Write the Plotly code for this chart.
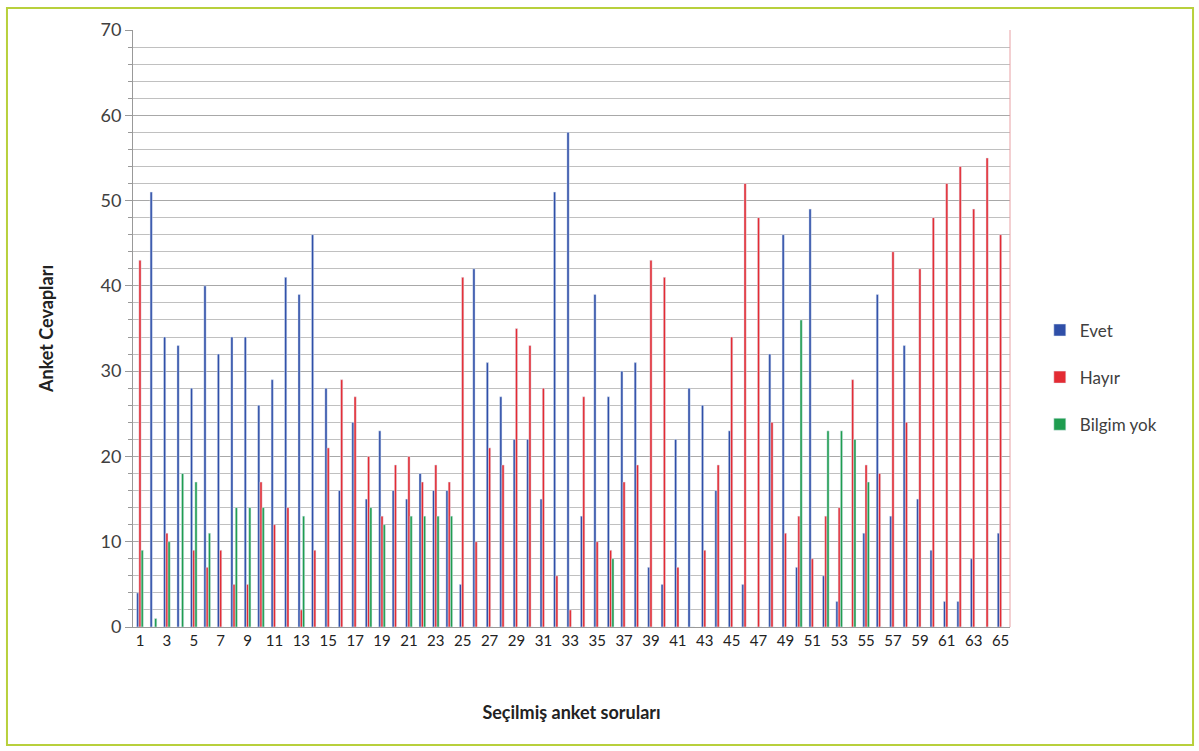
import plotly.graph_objects as go

# survey answers per selected question (1..65)
questions = list(range(1, 66))

evet = [4, 51, 34, 33, 28, 40, 32, 34, 34, 26, 29, 41, 39, 46, 28, 16, 24, 15, 23, 16,
        15, 18, 16, 16, 5, 42, 31, 27, 22, 22, 15, 51, 58, 13, 39, 27, 30, 31, 7, 5,
        22, 28, 26, 16, 23, 5, 0, 32, 46, 7, 49, 6, 3, 0, 11, 39, 13, 33, 15, 9,
        3, 3, 8, 0, 11]
hayir = [43, 0, 11, 0, 9, 7, 9, 5, 5, 17, 12, 14, 2, 9, 21, 29, 27, 20, 13, 19,
         20, 17, 19, 17, 41, 10, 21, 19, 35, 33, 28, 6, 2, 27, 10, 9, 17, 19, 43, 41,
         7, 0, 9, 19, 34, 52, 48, 24, 11, 13, 8, 13, 14, 29, 19, 18, 44, 24, 42, 48,
         52, 54, 49, 55, 46]
bilgim_yok = [9, 1, 10, 18, 17, 11, 0, 14, 14, 14, 0, 0, 13, 0, 0, 0, 0, 14, 12, 0,
              13, 13, 13, 13, 0, 0, 0, 0, 0, 0, 0, 0, 0, 0, 0, 8, 0, 0, 0, 0,
              0, 0, 0, 0, 0, 0, 0, 0, 0, 36, 0, 23, 23, 22, 17, 0, 0, 0, 0, 0,
              0, 0, 0, 0, 0]

font = "Lato, Open Sans, sans-serif"

fig = go.Figure()
fig.add_trace(go.Bar(x=questions, y=evet, name="Evet", marker_color="#2f4fa8",
                     legendgroup="a"))
fig.add_trace(go.Bar(x=questions, y=hayir, name="Hayır", marker_color="#e32b33",
                     legendgroup="b"))
fig.add_trace(go.Bar(x=questions, y=bilgim_yok, name="Bilgim yok", marker_color="#1f9d50",
                     legendgroup="c"))

fig.update_layout(
    width=1199, height=751,
    margin=dict(l=133, r=189, t=30, b=124),
    paper_bgcolor="white", plot_bgcolor="white",
    barmode="group", bargap=0.5, bargroupgap=0,
    font=dict(family=font, color="#404040"),
    legend=dict(x=1.034, y=0.418, yanchor="middle", xanchor="left",
                font=dict(size=17, color="#404040"), tracegroupgap=22,
                itemwidth=30),
    xaxis=dict(
        range=[0.48, 65.7],
        tickmode="array", tickvals=list(range(1, 66, 2)),
        tickfont=dict(size=15, color="#222"),
        showgrid=False, showline=True, linecolor="#999",
        title=dict(text="<b>Seçilmiş anket soruları</b>", font=dict(size=18, color="#222"),
                   standoff=58),
    ),
    yaxis=dict(
        range=[0, 70], dtick=10,
        tickfont=dict(size=18, color="#404040"),
        showgrid=True, gridcolor="#a8a8a8", gridwidth=1,
        minor=dict(dtick=2, showgrid=True, gridcolor="#c0c0c0", ticks="outside",
                   ticklen=4, tickcolor="#999"),
        showline=True, linecolor="#999", ticks="outside", ticklen=7, tickcolor="#999",
        zeroline=False,
        title=dict(text="<b>Anket Cevapları</b>", font=dict(size=18, color="#222"),
                   standoff=42),
    ),
)

# right-hand edge line and outer frame
fig.add_shape(type="line", xref="paper", yref="paper", x0=1, x1=1, y0=0, y1=1,
              line=dict(color="#e8a0a4", width=1))
fig.add_shape(type="rect", xref="paper", yref="paper",
              x0=-0.1437, x1=1.2087, y0=-0.1977, y1=1.0369,
              line=dict(color="#b8d03c", width=2))

fig.write_html("out.html", config={"displayModeBar": False},
               post_script="document.body.style.margin='0';")
